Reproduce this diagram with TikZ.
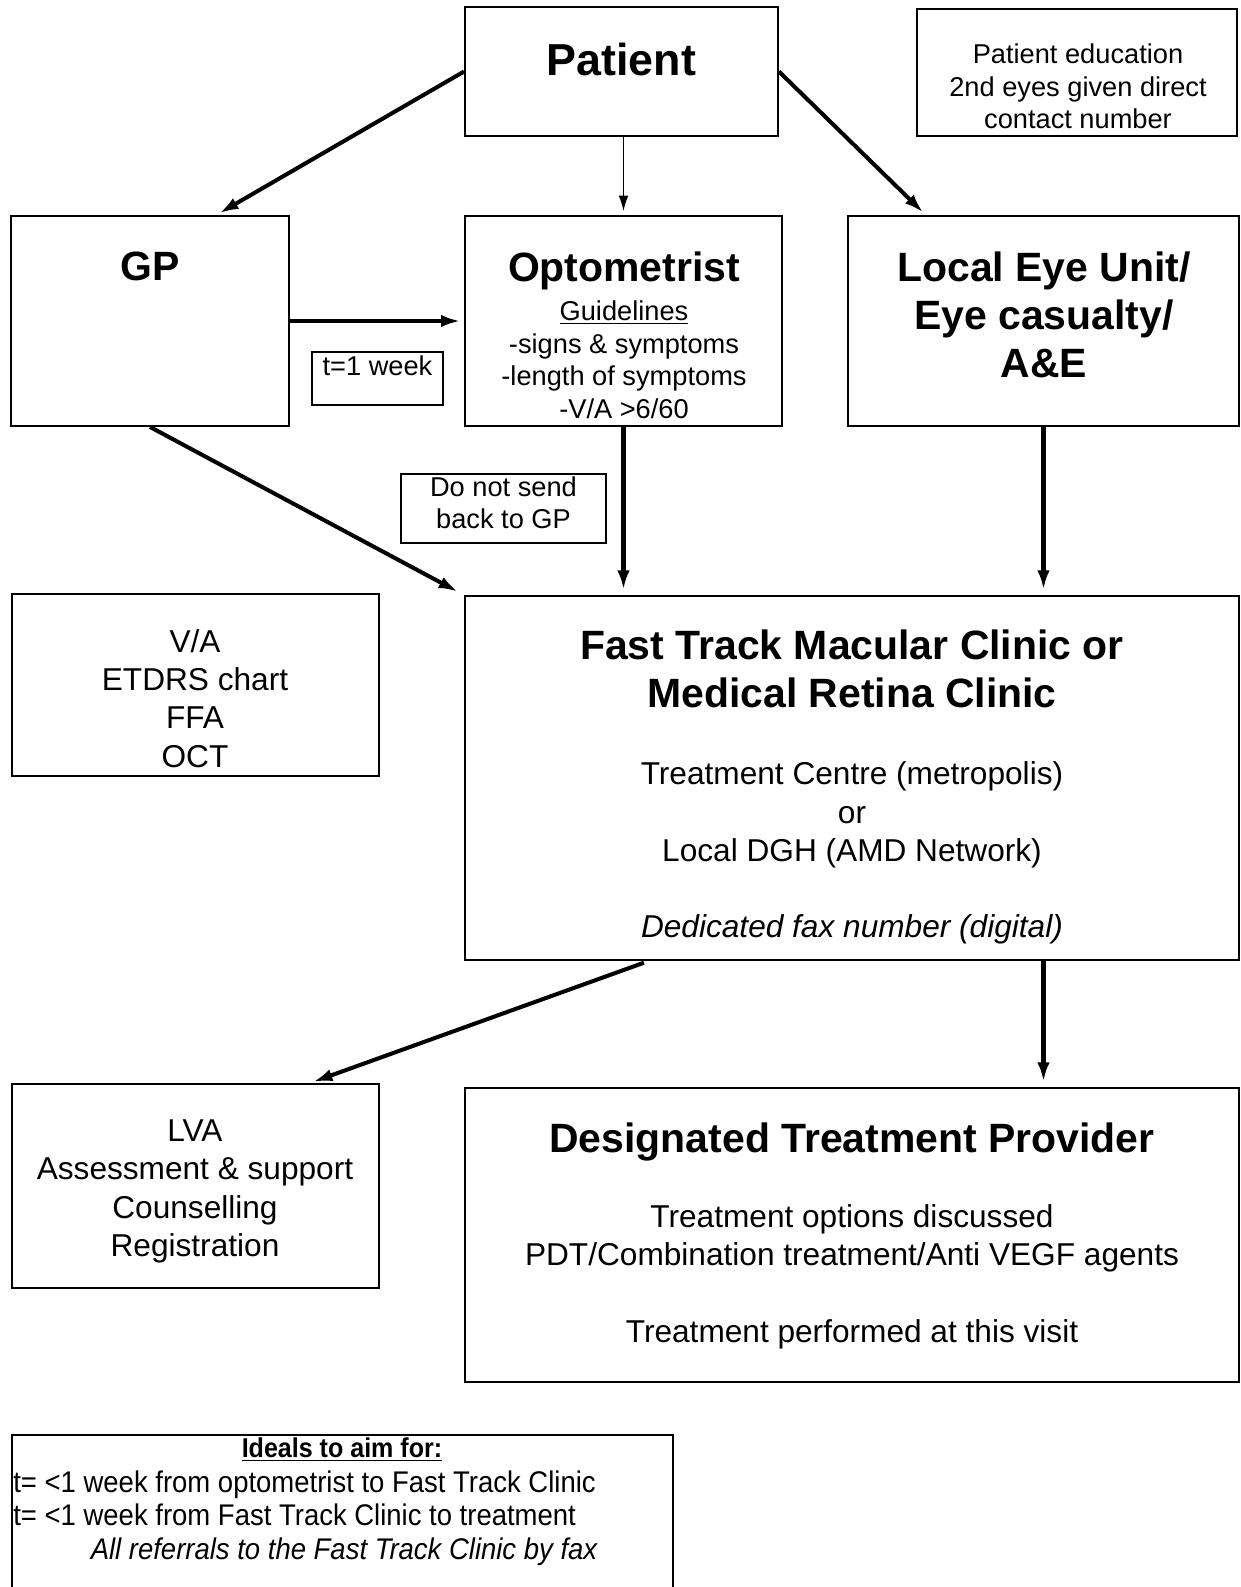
\documentclass[tikz,border=0pt]{standalone}
\usepackage{fontspec}
\setmainfont{Liberation Sans}
\newfontfamily\narrowsans[FakeStretch=0.92]{Liberation Sans}
\usetikzlibrary{arrows.meta}

\begin{document}
\begin{tikzpicture}[x=0.02cm, y=-0.02cm,
    box/.style={draw, line width=1.1pt, inner sep=0pt},
    title/.style={font=\fontsize{23.3}{27.2}\selectfont\bfseries, align=center},
    body/.style={font=\fontsize{18}{21.8}\selectfont, align=center},
    small/.style={font=\fontsize{15.5}{18.5}\selectfont, align=center},
    note/.style={font=\narrowsans\fontsize{17}{18.7}\selectfont, inner sep=0pt},
    flow/.style={line width=2.3pt, -{Latex[length=11pt,width=7pt]}, shorten >=2pt},
    thinflow/.style={line width=1.1pt, -{Latex[length=9pt,width=5.5pt]}, shorten >=2pt}]
\useasboundingbox (0,0) rectangle (1241,1587);
% draw boxes
    \node[box, minimum width=6.26cm, minimum height=2.58cm] (patient) at (621.5,71.5) {};
    \node[box, minimum width=6.4cm, minimum height=2.54cm] (educ) at (1077,72.5) {};
    \node[box, minimum width=5.56cm, minimum height=4.2cm] (gp) at (150,321) {};
    \node[box, minimum width=6.34cm, minimum height=4.2cm] (opto) at (623.5,321) {};
    \node[box, minimum width=7.82cm, minimum height=4.2cm] (local) at (1043.5,321) {};
    \node[box, minimum width=2.62cm, minimum height=1.06cm] (week) at (377.5,378.5) {};
    \node[box, minimum width=4.1cm, minimum height=1.38cm] (nosend) at (503.5,508.5) {};
    \node[box, minimum width=7.34cm, minimum height=3.64cm] (tests) at (195.5,685) {};
    \node[box, minimum width=15.48cm, minimum height=7.28cm] (fast) at (852,778) {};
    \node[box, minimum width=7.34cm, minimum height=4.08cm] (lva) at (195.5,1186) {};
    \node[box, minimum width=15.48cm, minimum height=5.88cm] (provider) at (852,1235) {};
    \node[box, minimum width=13.22cm, minimum height=3.7cm] (ideals) at (342.5,1527.5) {};
% texts
    \node[font=\fontsize{25.5}{30}\selectfont\bfseries] (patienttext) at (621.5,59) {Patient};
    \node[small] (eductext) at (1078,86.5) {Patient education\\2nd eyes given direct\\contact number};
    \node[title] (gptext) at (150,266) {GP};
    \node[title] (optotext) at (624,271) {Optometrist};
    \node[small] (guidetext) at (624,360) {\underline{Guidelines}\\-signs \& symptoms\\-length of symptoms\\-V/A >6/60};
    \node[title] (localtext) at (1044,315) {Local Eye Unit/\\Eye casualty/\\A\&E};
    \node[small] (weektext) at (377.5,366) {t=1 week};
    \node[small] (nosendtext) at (503.5,503) {Do not send\\back to GP};
    \node[body] (teststext) at (195,698.5) {V/A\\ETDRS chart\\FFA\\OCT};
    \node[title] (fasttitle) at (852,669) {Fast Track Macular Clinic or\\Medical Retina Clinic};
    \node[body] (fasttext) at (852,815) {Treatment Centre (metropolis)\\or\\Local DGH (AMD Network)};
    \node[body, font=\fontsize{18}{21.8}\selectfont\itshape] (faxtext) at (852,929) {Dedicated fax number (digital)};
    \node[body] (lvatext) at (195,1191.5) {LVA\\Assessment \& support\\Counselling\\Registration};
    \node[title] (providertitle) at (852,1142) {Designated Treatment Provider};
    \node[body] (providertext) at (852,1238) {Treatment options discussed\\PDT/Combination treatment/Anti VEGF agents};
    \node[body] (visittext) at (852,1334) {Treatment performed at this visit};
    \node[note, font=\narrowsans\fontsize{15.5}{18.7}\selectfont\bfseries] (idealstitle) at (342,1450) {\underline{Ideals to aim for:}};
    \node[note, anchor=west] (idealone) at (13,1485) {t= <1 week from optometrist to Fast Track Clinic};
    \node[note, anchor=west] (idealtwo) at (13,1515) {t= <1 week from Fast Track Clinic to treatment};
    \node[note, font=\narrowsans\fontsize{17}{18.7}\selectfont\itshape] (idealfax) at (344,1552) {All referrals to the Fast Track Clinic by fax};
% draw arrows
    \draw[flow] (patient.west) -- (gp.58);
    \draw[thinflow] (opto.north |- patient.south) -- (opto.north);
    \draw[flow] (patient.east) -- (local.138.5);
    \draw[flow] (gp.east) -- (opto.west);
    \draw[flow, shorten >=4pt] (gp.south) -- (fast.north west);
    \draw[flow, shorten >=3pt] (opto.south) -- (opto.south |- fast.north);
    \draw[flow, shorten >=3pt] (local.south) -- (local.south |- fast.north);
    \draw[flow, shorten <=3pt, shorten >=2pt] (fast.222) -- (lva.42);
    \draw[flow, shorten >=3pt] (fast.south -| local.south) -- (local.south |- provider.north);
\end{tikzpicture}
\end{document}
